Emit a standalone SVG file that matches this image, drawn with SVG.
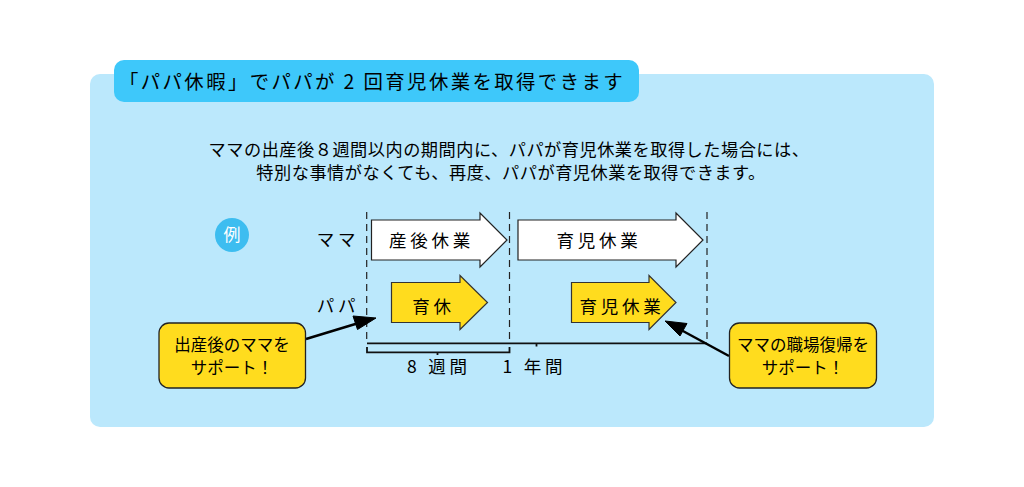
<svg xmlns="http://www.w3.org/2000/svg" width="1024" height="487" viewBox="0 0 1024 487">
<style>
text{font-family:"Noto Sans CJK JP","Noto Sans",sans-serif;fill:#000;text-anchor:middle;font-weight:400}
.lbl{font-size:17.500px;letter-spacing:3.800px}
.body{font-size:17.200px;letter-spacing:.5px}
.call{font-size:16.500px}
.white{fill:#fff;stroke:#222;stroke-width:1.2}
.yel{fill:#ffdc1e;stroke:#333;stroke-width:1.200}
.box{fill:#ffdc1e;stroke:#222;stroke-width:1.300}
.dash{stroke:#222;stroke-width:1.200;stroke-dasharray:7 5;fill:none}
.ln{stroke:#111;stroke-width:1.800;fill:none}
</style>
<rect width="1024" height="487" fill="#fff"/>
<g id="panel"><rect x="90" y="74" width="844" height="353" rx="10" fill="#bbe8fc"/></g>
<g id="title"><rect x="114" y="60" width="525" height="42" rx="10" fill="#3ec8fa"/>
<text x="372" y="88.500" style="font-size:19.400px;letter-spacing:2.400px">「パパ休暇」でパパが 2 回育児休業を取得できます</text></g>
<g id="intro"><text x="509" y="155.500" class="body">ママの出産後８週間以内の期間内に、パパが育児休業を取得した場合には、</text>
<text x="511" y="178.500" class="body">特別な事情がなくても、再度、パパが育児休業を取得できます。</text></g>
<g id="example"><circle cx="232" cy="235" r="17" fill="#3dbdf0"/><text x="232" y="241" style="font-size:17px;fill:#fff">例</text></g>
<g id="label-mama"><text x="338" y="246" class="lbl">ママ</text></g>
<g id="label-papa"><text x="338" y="312" class="lbl">パパ</text></g>
<g id="connectors">
<path class="dash" d="M366.700 212V343M509.500 212V343M707 212V343"/>
<path class="ln" d="M367 343.300H707M536.500 343.300V346.500M367 347V352.300H509.500V347M437.500 352.300V355"/>
<path d="M306 339L357 323.500" stroke="#000" stroke-width="2.500" fill="none"/>
<path d="M376 318L357.500 329.500L353 316Z" fill="#000" stroke="#000"/>
<path d="M729 356L682 330.500" stroke="#000" stroke-width="2.500" fill="none"/>
<path d="M665 321L687 323.500L680 336Z" fill="#000" stroke="#000"/>
</g>
<g id="arrow-sango"><path class="white" d="M371.500 220H480V213L507 240L480 267V260H371.500Z"/><text x="431.500" y="246.500" class="lbl">産後休業</text></g>
<g id="arrow-ikuji-mama"><path class="white" d="M518 220H676V213L703 240L676 267V260H518Z"/><text x="599" y="246.500" class="lbl">育児休業</text></g>
<g id="arrow-ikukyu"><path class="yel" d="M391.500 282.500H460V275.500L487.500 302.500L460 329.500V322.500H391.500Z"/><text x="433.500" y="312.500" class="lbl">育休</text></g>
<g id="arrow-ikuji-papa"><path class="yel" d="M571.500 282.500H649V275.500L676 302.500L649 329.500V322.500H571.500Z"/><text x="622" y="312.500" class="lbl">育児休業</text></g>
<g id="label-8w"><text x="439" y="373" class="lbl">8 週間</text></g>
<g id="label-1y"><text x="534.500" y="373" class="lbl">1 年間</text></g>
<g id="callout-left"><rect class="box" x="159" y="323" width="146.500" height="65" rx="10"/><text x="232" y="351" class="call">出産後のママを</text><text x="232" y="374" class="call">サポート！</text></g>
<g id="callout-right"><rect class="box" x="729.500" y="323" width="147" height="65" rx="10"/><text x="803" y="351" class="call">ママの職場復帰を</text><text x="803" y="374" class="call">サポート！</text></g>
</svg>
